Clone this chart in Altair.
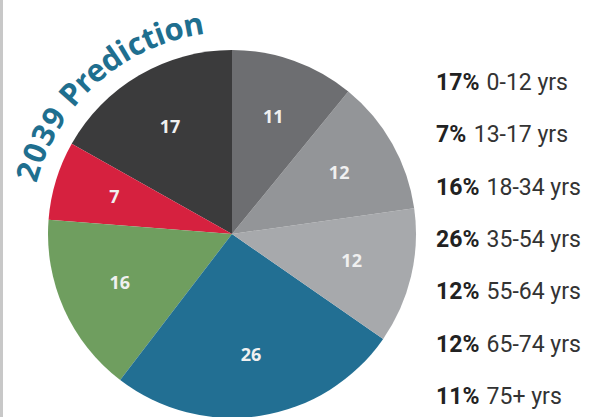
import math
import altair as alt
import pandas as pd

# ---- data ----
ages = ["0-12 yrs", "13-17 yrs", "18-34 yrs", "35-54 yrs", "55-64 yrs", "65-74 yrs", "75+ yrs"]
shares = [17, 7, 16, 26, 12, 12, 11]
colors = ["#3b3b3c", "#d6213f", "#6f9e5f", "#226f93", "#a7a9ac", "#939598", "#6d6e71"]
title_text = "2039 Prediction"

pie_df = pd.DataFrame({
    "age": ages,
    "share": shares,
    "slot": list(range(len(ages)))[::-1],   # pie runs clockwise from 75+ yrs
})
pie_df["pct"] = pie_df["share"].astype(str) + "%"

CX, CY, R = 232, 234, 184

color_scale = alt.Scale(domain=ages, range=colors)

base = alt.Chart(pie_df).encode(
    theta=alt.Theta("share:Q", stack=True),
    order=alt.Order("slot:Q"),
    x=alt.value(CX),
    y=alt.value(CY),
)
arcs = base.mark_arc(radius=R).encode(
    color=alt.Color("age:N", scale=color_scale, legend=None)
)
nums = base.mark_text(
    radius=123, font="Open Sans", fontWeight="bold", fontSize=18,
    align="center", baseline="middle"
).encode(text="share:Q", color=alt.value("#f0f0f0"))

# ---- curved title: one glyph per character along an arc ----
glyph_w = {'2': .62, '0': .66, '3': .62, '9': .64, ' ': .30, 'P': .66, 'r': .42,
           'e': .60, 'd': .66, 'i': .30, 'c': .56, 't': .42, 'o': .64, 'n': .66}
ws = [glyph_w[c] for c in title_text]
centers = []
acc = 0.0
for w in ws:
    centers.append(acc + w / 2)
    acc += w
start_deg, end_deg = -73.0, -10.5
th_deg = [start_deg + (c - centers[0]) / (centers[-1] - centers[0]) * (end_deg - start_deg)
          for c in centers]
title_df = pd.DataFrame({
    "ch": list(title_text),
    "th": [math.radians(t) for t in th_deg],
    "rot": [(t + 360) % 360 for t in th_deg],
})
title = alt.Chart(title_df).mark_text(
    radius=211, font="Open Sans", fontWeight="bold", fontSize=31,
    color="#1f6f8f", align="center", baseline="middle"
).encode(
    theta=alt.Theta("th:Q", scale=None, stack=False),
    angle=alt.Angle("rot:Q", scale=None),
    text="ch:N",
    x=alt.value(CX),
    y=alt.value(CY),
)

# ---- legend text ----
ypos = alt.Y("age:N", sort=ages, axis=None,
             scale=alt.Scale(type="point", range=[83, 397], padding=0))
leg = alt.Chart(pie_df).transform_calculate(
    xr="436 + (length(datum.pct) - 1) * 12.9 + 24.8"
)
bold = leg.mark_text(
    align="left", baseline="middle", font="Roboto", fontWeight="bold",
    fontSize=23, color="#222222"
).encode(x=alt.value(436), y=ypos, text="pct:N")
reg = leg.mark_text(
    align="left", baseline="middle", font="Roboto", fontWeight="normal",
    fontSize=23, color="#333333"
).encode(x=alt.X("xr:Q", scale=None), y=ypos, text="age:N")

rule = alt.Chart(pd.DataFrame({"a": [0]})).mark_rule(
    color="#c8c8c8", strokeWidth=3
).encode(x=alt.value(1.5), y=alt.value(0), y2=alt.value(417))

chart = alt.layer(rule, arcs, nums, title, bold, reg).properties(
    width=600, height=417, padding=0,
    autosize=alt.AutoSizeParams(type="none"),
    background="white",
).configure_view(stroke=None)

chart.save("out.html", embed_options={"renderer": "svg", "actions": False})
